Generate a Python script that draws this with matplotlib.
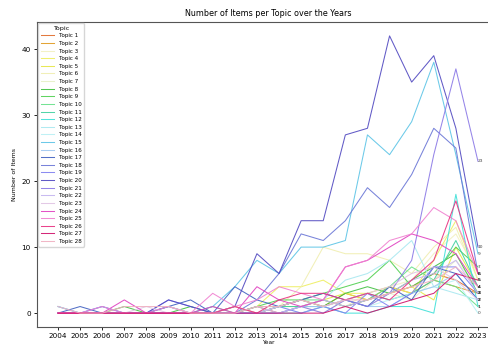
import matplotlib
matplotlib.use("Agg")
import matplotlib.pyplot as plt

years = list(range(2004, 2024))

topics = {
    "Topic 1":  [0,0,0,0,0,0,0,0,0,1,0,1,2,1,2,3,4,6,5,3],
    "Topic 2":  [0,0,0,0,0,0,0,0,1,0,1,2,1,3,2,4,3,5,4,3],
    "Topic 3":  [0,0,0,0,0,0,0,0,0,0,0,1,2,1,3,4,5,9,12,6],
    "Topic 4":  [0,0,0,0,0,0,0,0,0,1,4,4,5,3,3,4,3,8,14,5],
    "Topic 5":  [0,0,0,0,0,0,0,0,0,0,1,1,2,3,2,3,4,2,10,4],
    "Topic 6":  [0,0,0,0,0,0,0,0,0,0,1,4,10,9,9,8,6,10,13,5],
    "Topic 7":  [0,0,0,0,0,0,0,0,0,0,0,1,0,2,1,3,2,5,8,4],
    "Topic 8":  [0,0,0,1,0,0,1,0,0,0,1,2,1,3,4,3,5,7,9,3],
    "Topic 9":  [0,0,0,0,0,0,0,0,0,1,2,2,3,4,5,8,4,6,10,7],
    "Topic 10": [0,0,0,0,0,0,0,1,0,1,1,2,2,1,2,4,7,5,4,1],
    "Topic 11": [0,0,0,0,0,0,0,0,0,0,1,1,1,2,3,2,3,5,11,4],
    "Topic 12": [0,0,0,0,0,0,0,0,0,0,0,0,1,0,0,1,1,0,18,1],
    "Topic 13": [1,0,0,0,0,1,0,0,0,0,0,1,2,5,6,8,11,4,3,2],
    "Topic 14": [0,0,0,0,0,0,0,0,0,0,1,0,1,2,1,2,3,4,5,0],
    "Topic 15": [1,0,1,0,0,1,0,1,4,8,6,10,10,11,27,24,29,38,24,9],
    "Topic 16": [1,0,0,0,0,1,0,0,0,0,0,1,1,2,1,1,3,4,6,2],
    "Topic 17": [0,1,0,0,0,1,2,0,4,2,1,2,3,2,1,4,2,7,6,2],
    "Topic 18": [0,0,0,0,0,0,0,0,0,2,6,12,11,14,19,16,21,28,25,6],
    "Topic 19": [0,0,1,0,0,2,1,0,0,0,1,0,1,0,3,1,3,7,7,3],
    "Topic 20": [0,0,0,0,0,2,1,0,1,9,6,14,14,27,28,42,35,39,28,10],
    "Topic 21": [0,0,0,0,0,0,0,0,0,0,0,1,0,2,1,3,8,24,37,23],
    "Topic 22": [0,0,0,0,0,0,0,0,0,1,0,1,2,1,2,3,5,6,8,3],
    "Topic 23": [0,0,0,0,1,0,0,0,1,0,1,2,1,2,3,4,6,7,5,2],
    "Topic 24": [0,0,0,2,0,0,0,1,0,4,2,1,2,7,8,10,12,11,9,4],
    "Topic 25": [0,0,1,0,0,1,0,3,1,2,4,3,2,7,8,11,12,16,14,6],
    "Topic 26": [0,0,0,0,0,0,0,0,1,0,2,3,3,2,3,2,5,8,17,6],
    "Topic 27": [0,0,0,0,0,0,0,0,0,0,0,0,0,1,0,1,2,3,6,5],
    "Topic 28": [1,0,0,1,1,1,0,0,0,1,1,2,1,2,2,3,4,5,7,4],
}

colors = ["#e06a2a", "#e09a20", "#f2f0c0", "#eeee60", "#e6e645", "#f0eeb0", "#e6f0c6",
          "#40c040", "#50d050", "#66e08a", "#40d0a0", "#3fe0d8", "#a8e8f0", "#b8f0f4",
          "#5cc4e6", "#a0c8f0", "#4060c0", "#6a76d6", "#8080f0", "#5048c0", "#8a78e6",
          "#c4b4f0", "#e0c4e4", "#e040c0", "#f080d0", "#e83080", "#d0106a", "#f0b0c0"]

fig = plt.figure(figsize=(4.88, 3.45), dpi=100)
ax = fig.add_axes([0.0758, 0.0522, 0.9467, 0.884])

for (name, vals), c in zip(topics.items(), colors):
    ax.plot(years, vals, color=c, lw=0.75, alpha=0.9, label=name)
    ax.text(years[-1], vals[-1], str(vals[-1]), fontsize=3.2, color="#444444",
            ha="left", va="center")

ax.set_title("Number of Items per Topic over the Years", fontsize=5.8, pad=4)
ax.set_xlabel("Year", fontsize=4.2, labelpad=0.5)
ax.set_ylabel("Number of Items", fontsize=4.5, labelpad=3)
ax.set_xticks(years)
ax.tick_params(labelsize=5.2, length=2.5, width=0.6, pad=2)
for s in ax.spines.values():
    s.set_linewidth(0.8)
    s.set_color("#555555")

ax.legend(title="Topic", loc="upper left", fontsize=4.1, title_fontsize=4.6,
          labelspacing=0.46, handlelength=2.4, borderpad=0.45, frameon=True,
          borderaxespad=0.2, framealpha=0.8)

fig.savefig("out.png", dpi=100)
